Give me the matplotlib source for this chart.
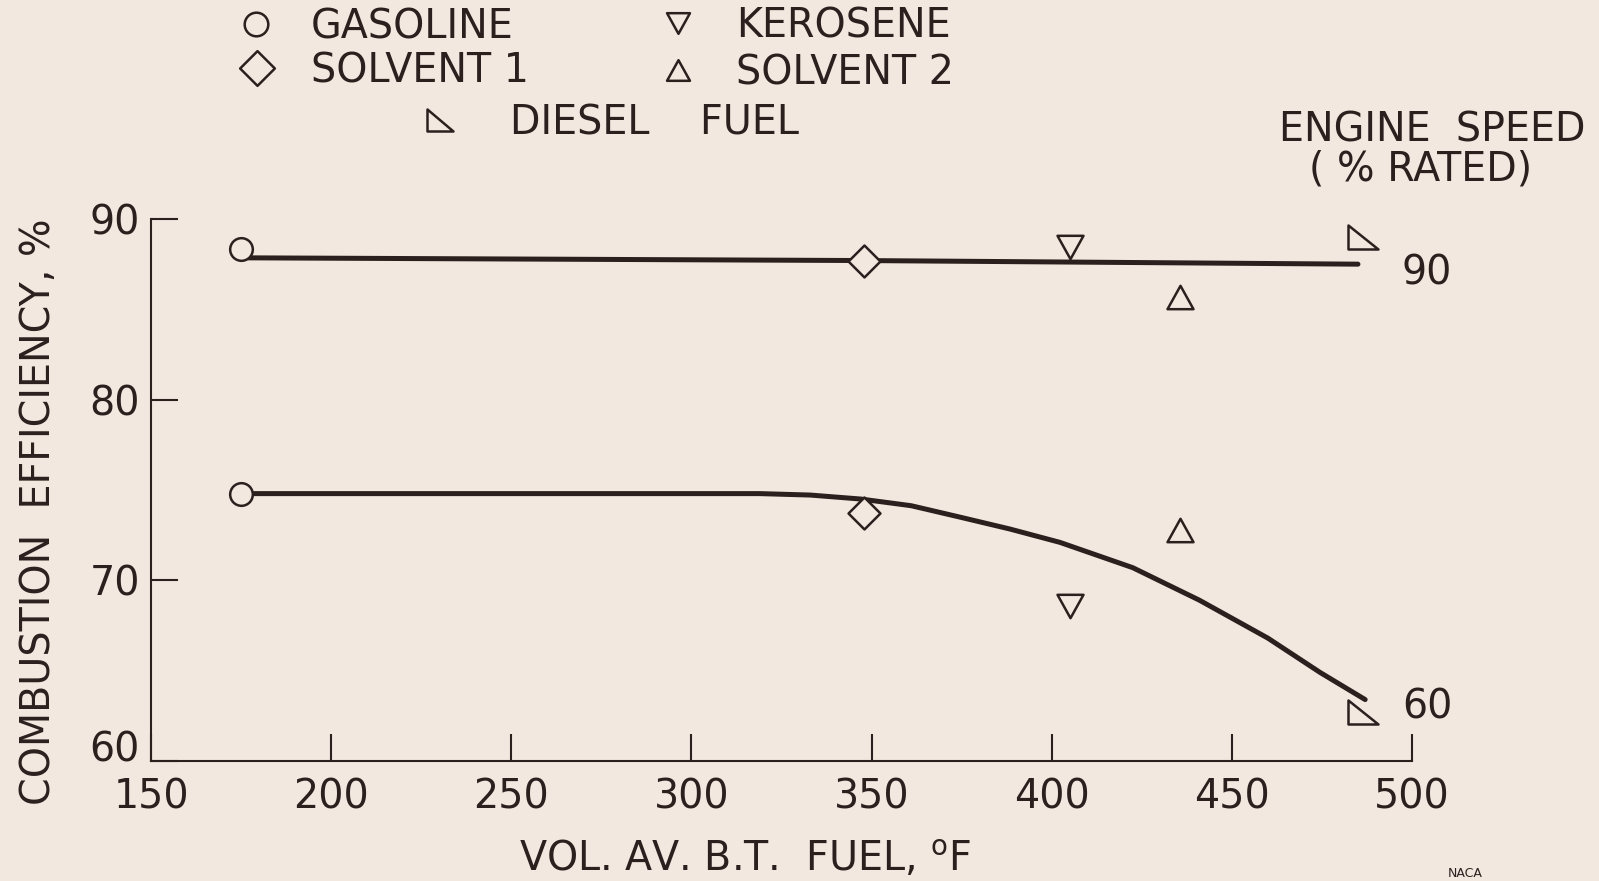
import matplotlib
matplotlib.use("Agg")
import matplotlib.pyplot as plt
import matplotlib.transforms as mtrans
from matplotlib.path import Path

# ---------------- data ----------------
fuels = ["GASOLINE", "SOLVENT 1", "KEROSENE", "SOLVENT 2", "DIESEL FUEL"]
fuel_bt = [175, 348, 405, 435.6, 486.5]          # vol. av. boiling temp, F
eff_90 = [88.35, 87.7, 88.45, 85.7, 89.0]          # 90 % rated speed
eff_60 = [74.8, 73.75, 68.6, 72.8, 62.7]           # 60 % rated speed

fair90_x = [177, 348, 485]
fair90_y = [87.85, 87.7, 87.5]
fair60_x = [177, 264, 291, 319, 333, 347, 361, 374.5, 388.4, 402.3, 422.5, 441, 460, 474.5, 487]
fair60_y = [74.8, 74.8, 74.8, 74.8, 74.72, 74.5, 74.13, 73.5, 72.84, 72.1, 70.7, 68.9, 66.8, 64.9, 63.4]

speed_labels = ["90", "60"]
xticks = [150, 200, 250, 300, 350, 400, 450, 500]
yticks = [60, 70, 80, 90]

# ---------------- style ----------------
BG = "#f3e8df"
INK = "#2b201e"
FS = 28.5
CAP = 0.729 * FS / 72 * 100   # cap height in px
plt.rcParams["font.family"] = ["DejaVu Sans"]
W, H = 1599, 881

def fx(px):
    return px / W

def fy_base(center_px):
    # baseline y (figure fraction) for caps text centred at center_px from top
    return (H - (center_px + CAP / 2)) / H

def mk(verts):
    codes = [Path.MOVETO] + [Path.LINETO] * (len(verts) - 1) + [Path.CLOSEPOLY]
    return Path(list(verts) + [verts[0]], codes)

m_circle = "o"
m_diamond = mk([(0, 1), (1, 0), (0, -1), (-1, 0)])
m_down = mk([(-1, 0.9), (1, 0.9), (0, -0.9)])
m_up = mk([(0, 0.9), (-1, -0.9), (1, -0.9)])
m_diesel = mk([(-1, 0.85), (-1, -0.85), (1, -0.85)])

markers = [m_circle, m_diamond, m_down, m_up, m_diesel]
msizes = [16.3, 23.0, 18.7, 18.7, 21.0]
legend_ms = [17.0, 25.0, 16.5, 16.5, 19.0]

fig = plt.figure(figsize=(15.99, 8.81), dpi=100, facecolor=BG)
ax = fig.add_axes([151 / W, (H - 761) / H, (1412 - 151) / W, (761 - 219) / H])
ax.set_facecolor(BG)

ax.plot(fair90_x, fair90_y, color=INK, lw=3.6, solid_capstyle="round",
        solid_joinstyle="round", zorder=2)
ax.plot(fair60_x, fair60_y, color=INK, lw=3.6, solid_capstyle="round",
        solid_joinstyle="round", zorder=2)

for x, y9, y6, m, ms in zip(fuel_bt, eff_90, eff_60, markers, msizes):
    ax.plot([x, x], [y9, y6], ls="none", marker=m, ms=ms, mfc=BG, mec=INK,
            mew=1.8, clip_on=False, zorder=3)

ax.set_xlim(150, 500)
ax.set_ylim(60, 90)
ax.set_xticks(xticks)
ax.set_yticks(yticks)
ax.set_xticklabels([str(t) for t in xticks])
ax.set_yticklabels([str(t) for t in yticks])
for s in ["top", "right"]:
    ax.spines[s].set_visible(False)
for s in ["left", "bottom"]:
    ax.spines[s].set_color(INK)
    ax.spines[s].set_linewidth(1.5)
ax.tick_params(direction="in", length=19.5, width=1.5, color=INK,
               labelsize=FS, labelcolor=INK)
ax.tick_params(axis="x", pad=12)
ax.tick_params(axis="y", pad=8)

# lift the "60" y tick label like the original
lab60 = ax.get_yticklabels()[0]
lab60.set_transform(lab60.get_transform() + mtrans.ScaledTranslation(0, 15 / 100, fig.dpi_scale_trans))

ax.set_ylabel("COMBUSTION  EFFICIENCY, %", fontsize=FS, color=INK)
ax.yaxis.set_label_coords(39 / W, (H - 512) / H, transform=fig.transFigure)
ax.yaxis.label.set_va("center")
ax.yaxis.label.set_ha("center")
ax.set_xlabel("VOL. AV. B.T.  FUEL, $^{\\mathregular{o}}$F", fontsize=FS, color=INK)
ax.xaxis.set_label_coords(745 / W, (H - 860) / H, transform=fig.transFigure)
ax.xaxis.label.set_va("center")

# engine-speed labels at line ends
fig.text(fx(1402), fy_base(270), speed_labels[0], fontsize=FS, color=INK, va="baseline", ha="left")
fig.text(fx(1402), fy_base(704), speed_labels[1], fontsize=FS, color=INK, va="baseline", ha="left")
fig.text(fx(1432), fy_base(127), "ENGINE  SPEED", fontsize=FS, color=INK, va="baseline", ha="center")
fig.text(fx(1421), fy_base(166), "( % RATED)", fontsize=FS, color=INK, va="baseline", ha="center")

# legend (key)
key_pos = [(256, 24, 311), (257, 68, 311), (678, 23, 736), (678, 70, 736), (440, 120, 510)]
key_text = ["GASOLINE", "SOLVENT 1", "KEROSENE", "SOLVENT 2", "DIESEL    FUEL"]
for (mx, my, tx), m, ms, t in zip(key_pos, markers, legend_ms, key_text):
    fig.add_artist(plt.Line2D([fx(mx)], [(H - my) / H], transform=fig.transFigure,
                              ls="none", marker=m, ms=ms, mfc=BG, mec=INK, mew=1.8))
    fig.text(fx(tx), fy_base(my), t, fontsize=FS, color=INK, va="baseline", ha="left")

fig.text(fx(1465), 1 / H, "NACA", fontsize=9, color=INK, ha="center", va="bottom")

fig.savefig("out.png", dpi=100, facecolor=BG)
